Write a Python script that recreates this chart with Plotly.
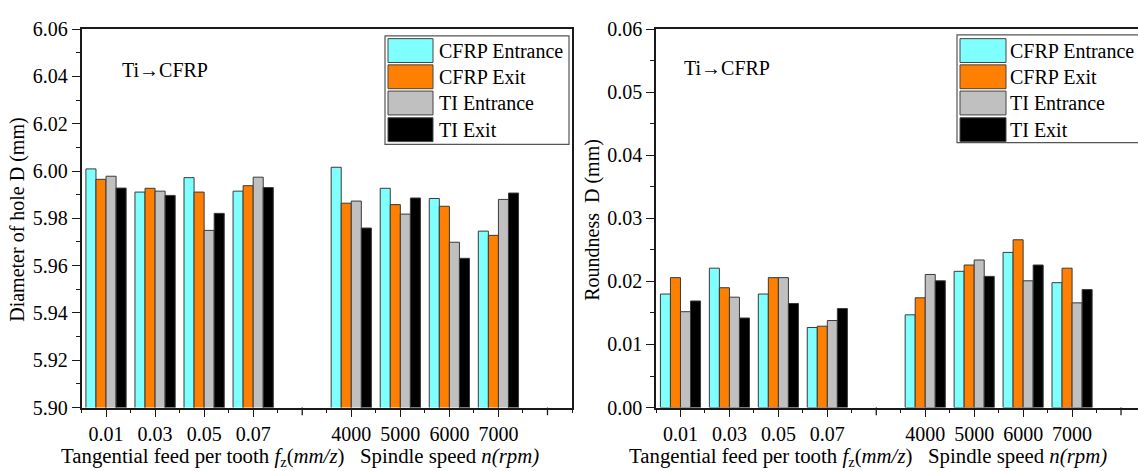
import plotly.graph_objects as go

W, H = 1138, 471

# ---------------- data ----------------
feed_labels = ["0.01", "0.03", "0.05", "0.07"]
speed_labels = ["4000", "5000", "6000", "7000"]
series_names = ["CFRP Entrance", "CFRP Exit", "TI Entrance", "TI Exit"]
series_colors = ["#80FFFF", "#FF8000", "#C0C0C0", "#000000"]

diam_cfrp_entrance = [6.0009, 5.9911, 5.9972, 5.9915, 6.0016, 5.9927, 5.9884, 5.9746]
diam_cfrp_exit = [5.9965, 5.9927, 5.9911, 5.9938, 5.9864, 5.9858, 5.9851, 5.9728]
diam_ti_entrance = [5.9978, 5.9915, 5.9749, 5.9974, 5.9873, 5.9818, 5.9699, 5.9880]
diam_ti_exit = [5.9928, 5.9897, 5.9821, 5.9930, 5.9759, 5.9886, 5.9631, 5.9907]

round_cfrp_entrance = [0.0180, 0.0221, 0.0180, 0.0127, 0.0147, 0.0216, 0.0246, 0.0198]
round_cfrp_exit = [0.0206, 0.0190, 0.0206, 0.0129, 0.0174, 0.0226, 0.0266, 0.0221]
round_ti_entrance = [0.0152, 0.0175, 0.0206, 0.0138, 0.0211, 0.0234, 0.0201, 0.0166]
round_ti_exit = [0.0169, 0.0142, 0.0165, 0.0157, 0.0201, 0.0208, 0.0226, 0.0187]

diam_series = [diam_cfrp_entrance, diam_cfrp_exit, diam_ti_entrance, diam_ti_exit]
round_series = [round_cfrp_entrance, round_cfrp_exit, round_ti_entrance, round_ti_exit]

# category positions: feed group, one empty slot, speed group, one trailing slot
n_feed = len(feed_labels)
n_speed = len(speed_labels)
xpos = list(range(1, n_feed + 1)) + list(range(n_feed + 2, n_feed + 2 + n_speed))
gap_ticks = [n_feed + 1, n_feed + n_speed + 2]

FONT = "Liberation Serif"
FS = 20

fig = go.Figure()

def px_x(p):
    return p / W

def px_y(p):
    return 1 - p / H

for i in range(4):
    fig.add_trace(go.Bar(
        x=xpos, y=diam_series[i], name=series_names[i],
        marker=dict(color=series_colors[i], line=dict(color="#3a3a3a", width=1)),
        xaxis="x", yaxis="y", showlegend=False))
for i in range(4):
    fig.add_trace(go.Bar(
        x=xpos, y=round_series[i], name=series_names[i],
        marker=dict(color=series_colors[i], line=dict(color="#3a3a3a", width=1)),
        xaxis="x2", yaxis="y2", showlegend=False))

# plot area pixels
L1, R1 = 81.5, 572
L2, R2full = 656, 1145.5
TOP, BOT = 19, 416
slot2 = (R2full - L2) / 10.0
x2max = 0.5 + (W - L2) / slot2

AX = "#1a1a1a"
axis_common = dict(
    showline=True, linecolor=AX, linewidth=1.5,
    ticks="outside", ticklen=8, tickwidth=1.3, tickcolor=AX,
    showgrid=False, zeroline=False,
    tickfont=dict(family=FONT, size=FS, color="black"),
)

xcommon = dict(axis_common, tickmode="array", tickvals=xpos, ticktext=feed_labels + speed_labels,
               minor=dict(tickmode="linear", tick0=0.5, dtick=1, ticklen=4,
                          ticks="outside", tickcolor=AX, tickwidth=1.3))

fig.update_layout(
    width=W, height=H,
    margin=dict(l=0, r=0, t=0, b=0),
    paper_bgcolor="white", plot_bgcolor="white",
    barmode="group", bargap=0.18, bargroupgap=0,
    xaxis=dict(xcommon, domain=[px_x(L1), px_x(R1)], range=[0.5, 10.5], anchor="y", mirror=True),
    yaxis=dict(axis_common, domain=[px_y(BOT), px_y(TOP)], range=[5.90, 6.06],
               dtick=0.02, tick0=5.90, tickformat=".2f", anchor="x", mirror=True,
               minor=dict(dtick=0.01, ticklen=4, ticks="outside", tickcolor=AX, tickwidth=1.3)),
    xaxis2=dict(xcommon, domain=[px_x(L2), 1.0], range=[0.5, x2max], anchor="y2", mirror=True),
    yaxis2=dict(axis_common, domain=[px_y(BOT), px_y(TOP)], range=[0, 0.06],
                dtick=0.01, tick0=0, tickformat=".2f", anchor="x2", mirror=False,
                minor=dict(dtick=0.005, ticklen=4, ticks="outside", tickcolor=AX, tickwidth=1.3)),
    font=dict(family=FONT, size=FS, color="black"),
)

shapes = []
annots = []

# unlabeled major ticks at the empty category slots
for xr in ["x", "x2"]:
    for gt in gap_ticks:
        shapes.append(dict(type="line", xref=xr, yref="paper", x0=gt, x1=gt,
                           y0=px_y(BOT), y1=px_y(BOT + 8), line=dict(color=AX, width=1.3)))

def legend(x0, y0, x1, y1, sw_x0, sw_x1, txt_x):
    shapes.append(dict(type="rect", xref="paper", yref="paper",
                       x0=px_x(x0), x1=px_x(x1), y0=px_y(y1), y1=px_y(y0),
                       line=dict(color="#555555", width=1.2), fillcolor="white", layer="above"))
    row_tops = [29, 56.5, 84, 112]
    for i, rt in enumerate(row_tops):
        shapes.append(dict(type="rect", xref="paper", yref="paper",
                           x0=px_x(sw_x0), x1=px_x(sw_x1), y0=px_y(rt + 25), y1=px_y(rt),
                           line=dict(color="#444444", width=1), fillcolor=series_colors[i], layer="above"))
        annots.append(dict(xref="paper", yref="paper", x=px_x(txt_x), y=px_y(rt + 12.5),
                           text=series_names[i], showarrow=False, xanchor="left", yanchor="middle",
                           font=dict(family=FONT, size=FS, color="black")))

legend(385, 26, 569, 140, 388, 433, 437)
legend(957, 25, 1160, 138, 960, 1006, 1008)

# Ti->CFRP labels
for xl, yl in [(120, 62), (682, 60)]:
    annots.append(dict(xref="paper", yref="paper", x=px_x(xl), y=px_y(yl), text="Ti→CFRP",
                       showarrow=False, xanchor="left", yanchor="middle",
                       font=dict(family=FONT, size=FS, color="black")))

# axis titles
annots.append(dict(xref="paper", yref="paper", x=px_x(18), y=px_y(219),
                   text="Diameter of hole D (mm)", textangle=-90, showarrow=False,
                   xanchor="center", yanchor="middle", font=dict(family=FONT, size=FS, color="black")))
annots.append(dict(xref="paper", yref="paper", x=px_x(593), y=px_y(219),
                   text="Roundness\u00a0\u00a0D (mm)", textangle=-90, showarrow=False,
                   xanchor="center", yanchor="middle", font=dict(family=FONT, size=FS, color="black")))

xt = ("Tangential feed per tooth <i>f</i><sub>z</sub>(<i>mm/z</i>)"
      "\u00a0\u00a0\u00a0Spindle speed <i>n(rpm)</i>")
for xc in [300, 868]:
    annots.append(dict(xref="paper", yref="paper", x=px_x(xc), y=px_y(484), text=xt,
                       showarrow=False, xanchor="center", yanchor="bottom",
                       font=dict(family=FONT, size=20.8, color="black")))

fig.update_layout(shapes=shapes, annotations=annots)

fig.write_html("out.html")
